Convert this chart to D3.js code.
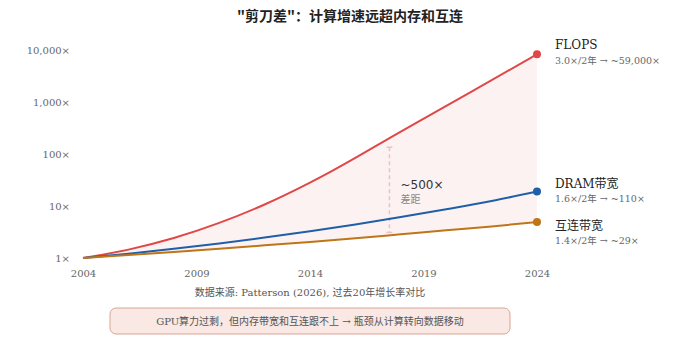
<!DOCTYPE html>
<html>
<head>
<meta charset="utf-8">
<script src="https://cdn.jsdelivr.net/npm/d3@7"></script>
<style>
  body { margin: 0; background: #fff; }
  text { font-family: "DejaVu Serif", "Noto Sans CJK SC", serif; }
</style>
</head>
<body>
<div id="chart"></div>
<script>
// Data
var years = [2004, 2006, 2008, 2010, 2012, 2014, 2015, 2018, 2021, 2024];
var flops = [1, 1.45, 2.42, 4.73, 10.7, 28.2, 47.9, 269, 1480, 8300];
var dramYears = [2004, 2006, 2008, 2010, 2012, 2014, 2016, 2018, 2020, 2022, 2024];
var dram = [1, 1.21, 1.50, 1.91, 2.47, 3.27, 4.43, 6.12, 8.65, 12.5, 19];
var interconnect = [1, 1.14, 1.31, 1.51, 1.75, 2.04, 2.39, 2.85, 3.4, 4.05, 4.9];
var yTicks = [1, 10, 100, 1000, 10000];
var xTicks = [2004, 2009, 2014, 2019, 2024];
var seriesNames = ["FLOPS", "DRAM带宽", "互连带宽"];
var seriesNotes = ["3.0×/2年 → ~59,000×", "1.6×/2年 → ~110×", "1.4×/2年 → ~29×"];
var seriesColors = ["#e04848", "#1f5fa8", "#bf7518"];
var gapYear = 2017.5, gapTop = 135, gapBottom = 3.1;
var gapLabel = "~500×", gapSub = "差距";

const width = 700, height = 360;
const margin = { top: 50, right: 163, bottom: 102, left: 83 };

const svg = d3.select("#chart")
    .append("svg")
    .attr("width", width)
    .attr("height", height);

const x = d3.scaleLinear()
    .domain([2004, 2024])
    .range([margin.left, width - margin.right]);
const y = d3.scaleLog()
    .domain([1, 10000])
    .range([height - margin.bottom, margin.top]);

// title
svg.append("text")
    .attr("x", 350).attr("y", 21)
    .attr("text-anchor", "middle")
    .style("font-family", "'Noto Sans CJK SC', sans-serif")
    .style("font-size", "14px")
    .style("font-weight", "bold")
    .attr("fill", "#222")
    .text("\"剪刀差\"：计算增速远超内存和互连");

const line = d3.line()
    .curve(d3.curveMonotoneX)
    .x(d => x(d[0]))
    .y(d => y(d[1]));

// shaded gap between FLOPS and interconnect: FLOPS forward, interconnect back
const upper = years.map((yr, i) => [yr, flops[i]]);
const lower = dramYears.map((yr, i) => [yr, interconnect[i]]);
const lowerPath = line(lower.slice().reverse()).replace(/^M/, "L");
svg.append("path")
    .attr("fill", "#fdf2f2")
    .attr("d", line(upper) + lowerPath + "Z");

// axes (no domain lines, no tick lines)
const yAxis = svg.append("g")
    .attr("transform", `translate(${margin.left - 10},0)`)
    .call(d3.axisLeft(y).tickValues(yTicks).tickSize(0)
        .tickFormat(d => d3.format(",")(d) + "×"));
yAxis.select(".domain").remove();
yAxis.selectAll("text")
    .style("font-family", "'DejaVu Serif', serif")
    .style("font-size", "10px")
    .attr("fill", "#666");

const xAxis = svg.append("g")
    .attr("transform", `translate(0,${height - margin.bottom + 9})`)
    .call(d3.axisBottom(x).tickValues(xTicks).tickSize(0).tickFormat(d3.format("d")));
xAxis.select(".domain").remove();
xAxis.selectAll("text")
    .style("font-family", "'DejaVu Serif', serif")
    .style("font-size", "10px")
    .attr("fill", "#666");

// gap marker
svg.append("line")
    .attr("x1", x(gapYear)).attr("x2", x(gapYear))
    .attr("y1", y(gapTop)).attr("y2", y(gapBottom))
    .attr("stroke", "#e8c4c6")
    .attr("stroke-width", 1.5)
    .attr("stroke-dasharray", "4,3");
[gapTop, gapBottom].forEach(v => {
    svg.append("line")
        .attr("x1", x(gapYear) - 3).attr("x2", x(gapYear) + 3)
        .attr("y1", y(v)).attr("y2", y(v))
        .attr("stroke", "#e8c4c6")
        .attr("stroke-width", 1.5);
});
svg.append("text")
    .attr("x", x(gapYear) + 11).attr("y", 189)
    .style("font-family", "'DejaVu Sans', sans-serif")
    .style("font-size", "12px")
    .attr("fill", "#333")
    .text(gapLabel);
svg.append("text")
    .attr("x", x(gapYear) + 11).attr("y", 203)
    .style("font-family", "'Noto Sans CJK SC', sans-serif")
    .style("font-size", "10px")
    .attr("fill", "#888")
    .text(gapSub);

// series lines, end dots, labels
const allSeries = [upper, dramYears.map((yr, i) => [yr, dram[i]]), lower];
const labelY = [[49, 64], [188, 202], [230, 244]];

allSeries.forEach((pts, i) => {
    svg.append("path")
        .datum(pts)
        .attr("fill", "none")
        .attr("stroke", seriesColors[i])
        .attr("stroke-width", 2)
        .attr("d", line);
    const last = pts[pts.length - 1];
    svg.append("circle")
        .attr("cx", x(last[0])).attr("cy", y(last[1]))
        .attr("r", 4)
        .attr("fill", seriesColors[i]);
    svg.append("text")
        .attr("x", x(last[0]) + 18).attr("y", labelY[i][0])
        .style("font-size", "12px")
        .attr("fill", "#222")
        .text(seriesNames[i]);
    svg.append("text")
        .attr("x", x(last[0]) + 18).attr("y", labelY[i][1])
        .style("font-size", "9.5px")
        .attr("fill", "#666")
        .text(seriesNotes[i]);
});

// source note
const midX = (x(2004) + x(2024)) / 2;
svg.append("text")
    .attr("x", midX).attr("y", 296)
    .attr("text-anchor", "middle")
    .style("font-size", "10px")
    .attr("fill", "#555")
    .text("数据来源: Patterson (2026), 过去20年增长率对比");

// takeaway box
svg.append("rect")
    .attr("x", 110).attr("y", 308)
    .attr("width", 400).attr("height", 26)
    .attr("rx", 6)
    .attr("fill", "#f9e8e3")
    .attr("stroke", "#d9a596")
    .attr("stroke-width", 1);
svg.append("text")
    .attr("x", 310).attr("y", 325)
    .attr("text-anchor", "middle")
    .style("font-size", "10px")
    .attr("fill", "#555")
    .text("GPU算力过剩，但内存带宽和互连跟不上 → 瓶颈从计算转向数据移动");
</script>
</body>
</html>
